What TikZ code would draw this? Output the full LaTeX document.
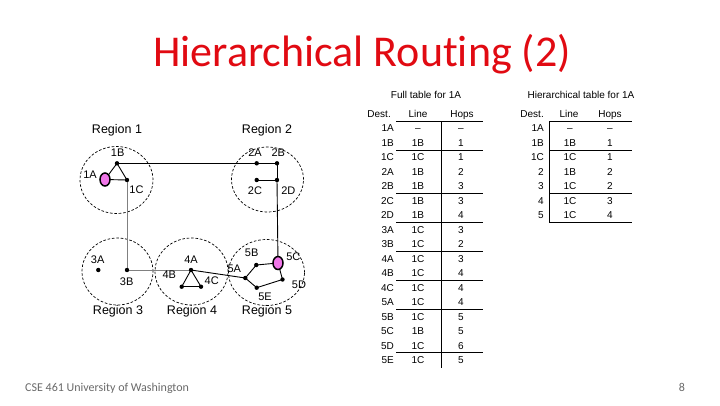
\documentclass[tikz,border=0pt]{standalone}
\usepackage{fontspec}
\setmainfont{Liberation Sans}
\newfontfamily\slidefont[Ligatures=NoCommon]{Carlito}
\usetikzlibrary{shapes.geometric}

\definecolor{titlered}{RGB}{225,10,18}
\definecolor{hostpink}{RGB}{240,118,232}
\definecolor{footgray}{RGB}{105,105,105}

\begin{document}
\begin{tikzpicture}[
		x=1pt, y=-1pt,
		region/.style={
				draw,
				ellipse,
				dash pattern=on 2.6pt off 1.8pt,
				line width=0.7pt,
				inner sep=0pt
			},
		router/.style={
				circle,
				fill=black,
				inner sep=0pt,
				minimum size=4.4pt
			},
		host/.style={
				ellipse,
				draw=black,
				line width=1.5pt,
				fill=hostpink,
				inner sep=0pt,
				minimum width=10pt,
				minimum height=13pt
			},
		rlabel/.style={
				font=\fontsize{11}{11}\selectfont,
				inner sep=0pt
			},
		regname/.style={
				font=\fontsize{12.5}{13}\selectfont,
				inner sep=0pt
			},
		cell/.style={
				font=\fontsize{10}{10}\selectfont,
				inner sep=0pt,
				text height=7.2pt,
				text depth=0pt
			},
		link/.style={
				line width=0.9pt
			},
		graylink/.style={
				line width=0.8pt,
				gray
			},
		rule/.style={
				line width=0.9pt
			}
	]
	\useasboundingbox (0,0) rectangle (720,405);

	% ================= title and footer =================
	\node[anchor=base, text=titlered, font=\slidefont\fontsize{44}{44}\selectfont, inner sep=0pt] (title) at (362,66) {Hierarchical Routing (2)};
	\node[anchor=base west, text=footgray, font=\slidefont\fontsize{12}{12}\selectfont, inner sep=0pt] (foot) at (25,391) {CSE 461 University of Washington};
	\node[anchor=base, text=footgray, font=\slidefont\fontsize{12}{12}\selectfont, inner sep=0pt] (pagenum) at (682,391) {8};

	% ================= regions =================
	\node[region, minimum width=73pt, minimum height=67pt] (reg1) at (116.5,180) {};
	\node[region, minimum width=72pt, minimum height=65pt] (reg2) at (267.5,179.5) {};
	\node[region, minimum width=71pt, minimum height=67pt] (reg3) at (117.5,271.5) {};
	\node[region, minimum width=73pt, minimum height=67pt] (reg4) at (191.5,271.5) {};
	\node[region, minimum width=76pt, minimum height=66pt] (reg5) at (266.5,272.5) {};

	\node[regname] (reg1name) at (117,130) {Region 1};
	\node[regname] (reg2name) at (267,130) {Region 2};
	\node[regname] (reg3name) at (118,311) {Region 3};
	\node[regname] (reg4name) at (192,311) {Region 4};
	\node[regname] (reg5name) at (267,311) {Region 5};

	% ================= links (under the routers) =================
	\coordinate (p1A) at (105,179.5);
	\coordinate (p1B) at (117,163.3);
	\coordinate (p1C) at (127,180);
	\coordinate (p2A) at (256.7,163.3);
	\coordinate (p2B) at (277,163.3);
	\coordinate (p2C) at (256.7,180);
	\coordinate (p2D) at (277,180);
	\coordinate (p3A) at (98.3,270);
	\coordinate (p3B) at (127,270);
	\coordinate (p4A) at (191,270);
	\coordinate (p4B) at (181.7,286.7);
	\coordinate (p4C) at (201,286.7);
	\coordinate (p5A) at (245.3,278);
	\coordinate (p5B) at (256.3,265);
	\coordinate (p5C) at (278,263);
	\coordinate (p5D) at (282.5,279.5);
	\coordinate (p5E) at (256.7,287.7);

	\draw[graylink] (p1C) -- (p3B);
	\draw[graylink] (p3B) -- (p4A);
	\draw[link] (p1A) -- (p1B);
	\draw[link] (p1A) -- (p1C);
	\draw[link] (p1B) -- (p1C);
	\draw[link] (p1B) -- (p2A);
	\draw[link] (p2A) -- (p2B);
	\draw[link] (p2B) -- (p2D);
	\draw[link] (p2C) -- (p2D);
	\draw[link] (p2D) -- (p5C);
	\draw[link] (p4A) -- (p4B);
	\draw[link] (p4B) -- (p4C);
	\draw[link] (p4C) -- (p4A);
	\draw[link] (p4A) -- (p5A);
	\draw[link] (p5A) -- (p5B);
	\draw[link] (p5B) -- (p5C);
	\draw[link] (p5A) -- (p5E);
	\draw[link] (p5E) -- (p5D);
	\draw[link] (p5D) -- (p5C);

	% ================= routers =================
	\node[host]   (r1A) at (p1A) {};
	\node[router] (r1B) at (p1B) {};
	\node[router] (r1C) at (p1C) {};
	\node[router] (r2A) at (p2A) {};
	\node[router] (r2B) at (p2B) {};
	\node[router] (r2C) at (p2C) {};
	\node[router] (r2D) at (p2D) {};
	\node[router] (r3A) at (p3A) {};
	\node[router] (r3B) at (p3B) {};
	\node[router] (r4A) at (p4A) {};
	\node[router] (r4B) at (p4B) {};
	\node[router] (r4C) at (p4C) {};
	\node[router] (r5A) at (p5A) {};
	\node[router] (r5B) at (p5B) {};
	\node[host]   (r5C) at (p5C) {};
	\node[router] (r5D) at (p5D) {};
	\node[router] (r5E) at (p5E) {};

	\node[rlabel] (l1A) at (90,174.3) {1A};
	\node[rlabel] (l1B) at (117.7,152.3) {1B};
	\node[rlabel] (l1C) at (136.5,190) {1C};
	\node[rlabel] (l2A) at (255,152.3) {2A};
	\node[rlabel] (l2B) at (278.3,152.3) {2B};
	\node[rlabel] (l2C) at (255,191) {2C};
	\node[rlabel] (l2D) at (288.3,191) {2D};
	\node[rlabel] (l3A) at (97.7,259.3) {3A};
	\node[rlabel] (l3B) at (126.7,281.5) {3B};
	\node[rlabel] (l4A) at (191,259.3) {4A};
	\node[rlabel] (l4B) at (169.3,275) {4B};
	\node[rlabel] (l4C) at (211.7,280.5) {4C};
	\node[rlabel] (l5A) at (234.3,269) {5A};
	\node[rlabel] (l5B) at (251.7,252.3) {5B};
	\node[rlabel] (l5C) at (293.3,256.7) {5C};
	\node[rlabel] (l5D) at (299,285) {5D};
	\node[rlabel] (l5E) at (265,296.7) {5E};

	% ================= full table =================
	\node[cell] (fulltitle) at (426,95) {Full table for 1A};
	\node[cell, anchor=east] (fdhead) at (391,114) {Dest.};
	\node[cell] (flhead) at (418,114) {Line};
	\node[cell] (fhhead) at (462,114) {Hops};

	\foreach \d/\l/\h [count=\i from 0] in {1A/\textendash/\textendash, 1B/1B/1, 1C/1C/1, 2A/1B/2, 2B/1B/3, 2C/1B/3, 2D/1B/4, 3A/1C/3, 3B/1C/2, 4A/1C/3, 4B/1C/4, 4C/1C/4, 5A/1C/4, 5B/1C/5, 5C/1B/5, 5D/1C/6, 5E/1C/5} {
		\node[cell, anchor=east] (fd\i) at (394,{128+14.5*\i}) {\d};
		\node[cell] (fl\i) at (418,{128+14.5*\i}) {\l};
		\node[cell] (fh\i) at (461,{128+14.5*\i}) {\h};
	}

	\foreach \r in {121,150,193,222,251,280,309,352.5}
	\draw[rule] (396,\r) -- (483,\r);
	\draw[rule] (441,121) -- (441,368);

	% ================= hierarchical table =================
	\node[cell] (hiertitle) at (581,95) {Hierarchical table for 1A};
	\node[cell, anchor=east] (hdhead) at (544,114) {Dest.};
	\node[cell] (hlhead) at (569,114) {Line};
	\node[cell] (hhhead) at (610,114) {Hops};

	\foreach \d/\l/\h [count=\i from 0] in {1A/\textendash/\textendash, 1B/1B/1, 1C/1C/1, 2/1B/2, 3/1C/2, 4/1C/3, 5/1C/4} {
		\node[cell, anchor=east] (hd\i) at (544,{128+14.5*\i}) {\d};
		\node[cell] (hl\i) at (570,{128+14.5*\i}) {\l};
		\node[cell] (hh\i) at (610,{128+14.5*\i}) {\h};
	}

	\foreach \r in {121,150,193,222}
	\draw[rule] (549,\r) -- (632,\r);
	\draw[rule] (549,121) -- (549,222);

\end{tikzpicture}
\end{document}
